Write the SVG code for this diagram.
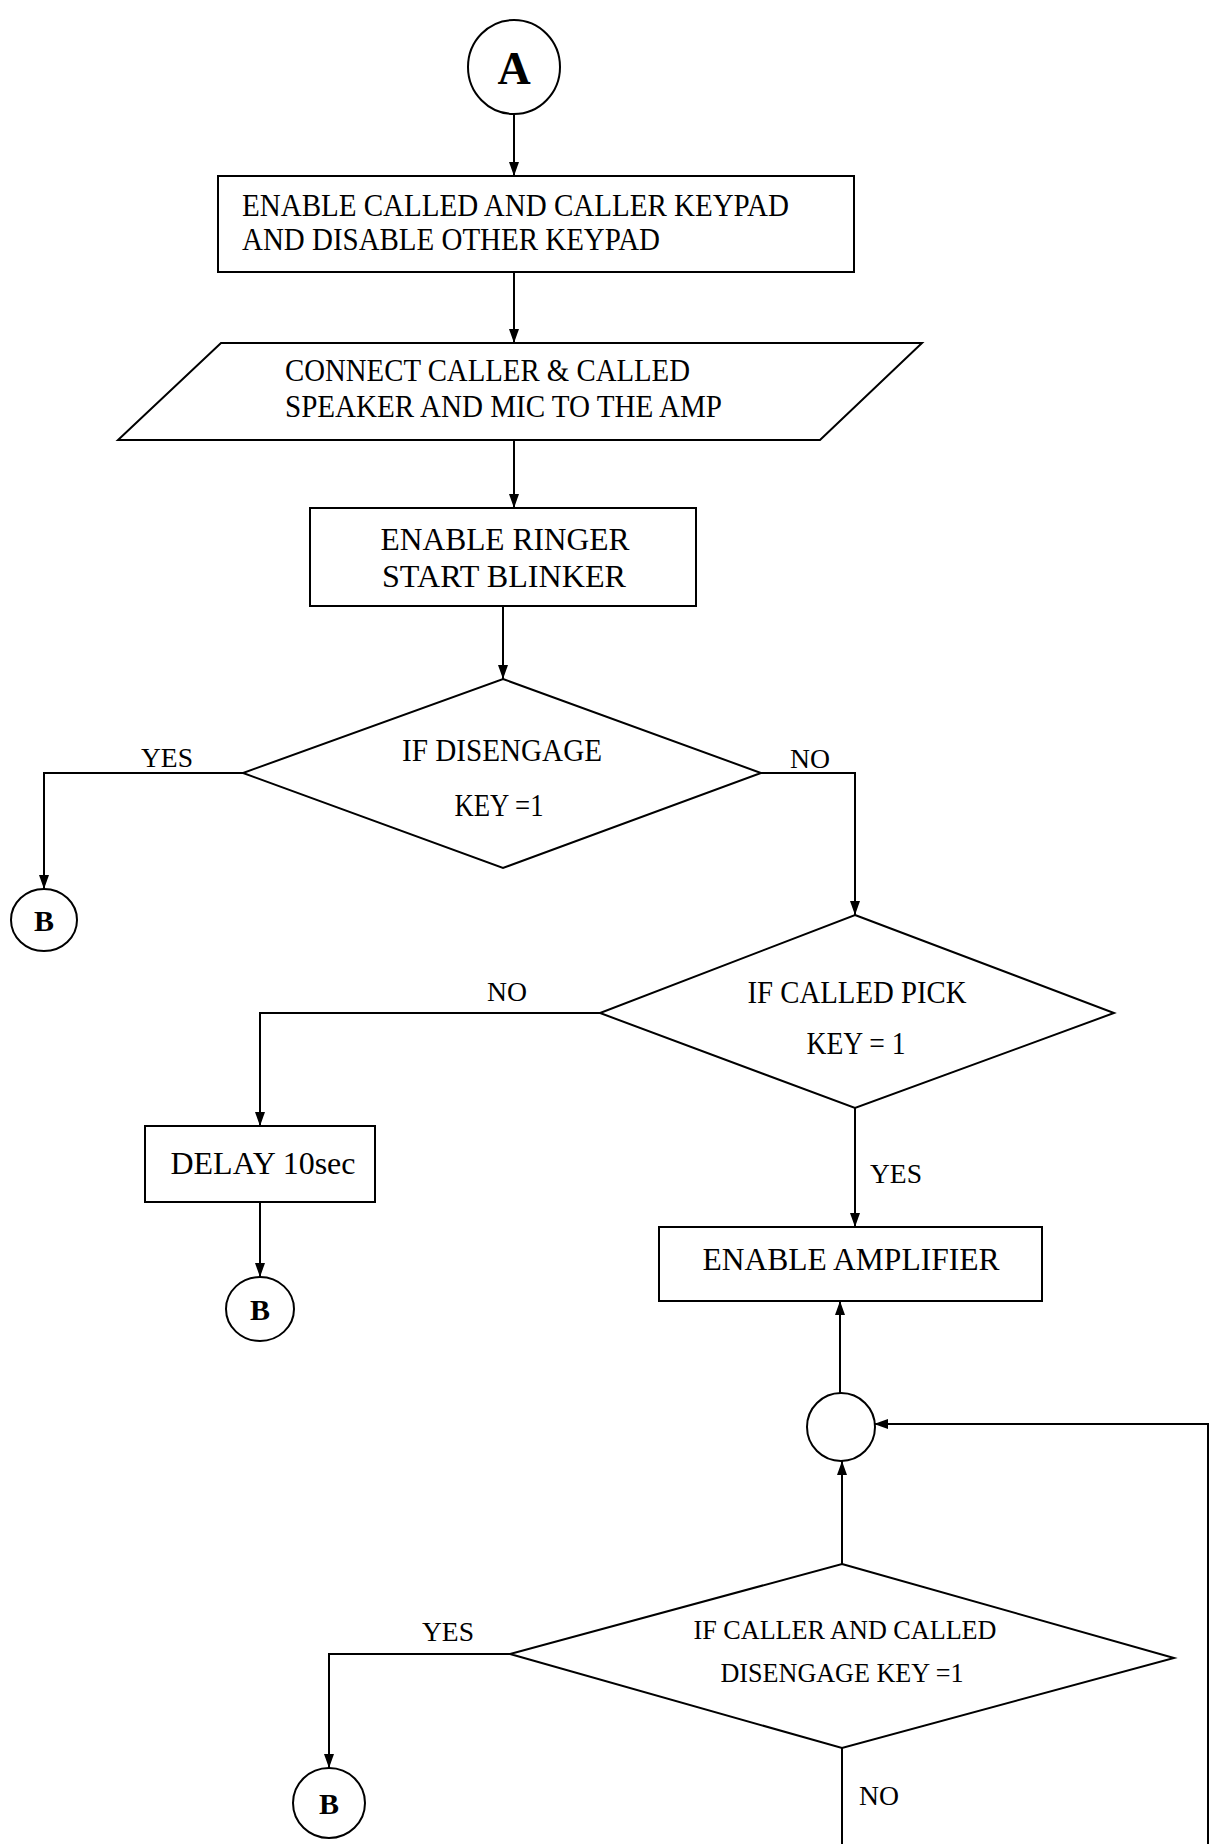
<svg xmlns="http://www.w3.org/2000/svg" width="1215" height="1844" viewBox="0 0 1215 1844">
<style>
.s{fill:#fff;stroke:#000;stroke-width:2}
.c{fill:none;stroke:#000;stroke-width:2}
text{font-family:"Liberation Serif","Times New Roman",serif;fill:#000}
.t{font-size:32px}
.m{text-anchor:middle}
.b{font-weight:bold}
.l{font-size:27px}
</style>
<defs>
<marker id="ah" viewBox="0 0 14 10" refX="14" refY="5" markerWidth="14" markerHeight="10" markerUnits="userSpaceOnUse" orient="auto"><path d="M0,0L14,5L0,10z" fill="#000"/></marker>
</defs>
<rect width="1215" height="1844" fill="#fff"/>
<g id="connectors">
<path class="c" d="M514,114V176" marker-end="url(#ah)"/>
<path class="c" d="M514,272V343" marker-end="url(#ah)"/>
<path class="c" d="M514,440V508" marker-end="url(#ah)"/>
<path class="c" d="M503,606V679" marker-end="url(#ah)"/>
<path class="c" d="M243,773H44V889" marker-end="url(#ah)"/>
<path class="c" d="M761,773H855V915" marker-end="url(#ah)"/>
<path class="c" d="M600,1013H260V1126" marker-end="url(#ah)"/>
<path class="c" d="M260,1202V1277" marker-end="url(#ah)"/>
<path class="c" d="M855,1108V1227" marker-end="url(#ah)"/>
<path class="c" d="M840,1393V1301" marker-end="url(#ah)"/>
<path class="c" d="M842,1564V1461" marker-end="url(#ah)"/>
<path class="c" d="M1208,1844V1424H874" marker-end="url(#ah)"/>
<path class="c" d="M510,1654H329V1768" marker-end="url(#ah)"/>
<path class="c" d="M842,1748V1844"/>
<text class="l m" x="167" y="767" textLength="52" lengthAdjust="spacingAndGlyphs">YES</text>
<text class="l m" x="810" y="768" textLength="40" lengthAdjust="spacingAndGlyphs">NO</text>
<text class="l m" x="507" y="1001" textLength="40" lengthAdjust="spacingAndGlyphs">NO</text>
<text class="l" x="870" y="1183" textLength="52" lengthAdjust="spacingAndGlyphs">YES</text>
<text class="l m" x="448" y="1641" textLength="52" lengthAdjust="spacingAndGlyphs">YES</text>
<text class="l" x="859" y="1805" textLength="40" lengthAdjust="spacingAndGlyphs">NO</text>
</g>
<g id="startA">
<ellipse class="s" cx="514" cy="67" rx="46" ry="47"/>
<text class="b m" x="514" y="84" font-size="46">A</text>
</g>
<g id="enableKeypad">
<rect class="s" x="218" y="176" width="636" height="96"/>
<text class="t" x="242" y="216" textLength="547" lengthAdjust="spacingAndGlyphs">ENABLE CALLED AND CALLER KEYPAD</text>
<text class="t" x="242" y="250" textLength="418" lengthAdjust="spacingAndGlyphs">AND DISABLE OTHER KEYPAD</text>
</g>
<g id="connectSpeaker">
<polygon class="s" points="221,343 922,343 820,440 118,440"/>
<text class="t" x="285" y="381" textLength="405" lengthAdjust="spacingAndGlyphs">CONNECT CALLER &amp; CALLED</text>
<text class="t" x="285" y="417" textLength="437" lengthAdjust="spacingAndGlyphs">SPEAKER AND MIC TO THE AMP</text>
</g>
<g id="enableRinger">
<rect class="s" x="310" y="508" width="386" height="98"/>
<text class="t m" x="505" y="550" textLength="249" lengthAdjust="spacingAndGlyphs">ENABLE RINGER</text>
<text class="t m" x="504" y="587" textLength="244" lengthAdjust="spacingAndGlyphs">START BLINKER</text>
</g>
<g id="ifDisengage">
<polygon class="s" points="503,679 761,773 503,868 243,773"/>
<text class="t m" x="502" y="761" textLength="200" lengthAdjust="spacingAndGlyphs">IF DISENGAGE</text>
<text class="t m" x="499" y="816" textLength="89" lengthAdjust="spacingAndGlyphs">KEY =1</text>
</g>
<g id="B1">
<ellipse class="s" cx="44" cy="920" rx="33" ry="31"/>
<text class="b m" x="44" y="931" font-size="30">B</text>
</g>
<g id="ifCalledPick">
<polygon class="s" points="855,915 1114,1013 855,1108 600,1013"/>
<text class="t m" x="857" y="1003" textLength="219" lengthAdjust="spacingAndGlyphs">IF CALLED PICK</text>
<text class="t m" x="856" y="1054" textLength="99" lengthAdjust="spacingAndGlyphs">KEY = 1</text>
</g>
<g id="delay">
<rect class="s" x="145" y="1126" width="230" height="76"/>
<text class="t m" x="263" y="1174" textLength="185" lengthAdjust="spacingAndGlyphs">DELAY 10sec</text>
</g>
<g id="B2">
<ellipse class="s" cx="260" cy="1309" rx="34" ry="32"/>
<text class="b m" x="260" y="1320" font-size="30">B</text>
</g>
<g id="enableAmp">
<rect class="s" x="659" y="1227" width="383" height="74"/>
<text class="t m" x="851" y="1270" textLength="297" lengthAdjust="spacingAndGlyphs">ENABLE AMPLIFIER</text>
</g>
<g id="junction">
<circle class="s" cx="841" cy="1427" r="34"/>
</g>
<g id="ifCallerCalled">
<polygon class="s" points="842,1564 1174,1658 842,1748 510,1654"/>
<text class="m" x="845" y="1639" font-size="27" textLength="303" lengthAdjust="spacingAndGlyphs">IF CALLER AND CALLED</text>
<text class="m" x="842" y="1682" font-size="27" textLength="243" lengthAdjust="spacingAndGlyphs">DISENGAGE KEY =1</text>
</g>
<g id="B3">
<ellipse class="s" cx="329" cy="1803" rx="36" ry="35"/>
<text class="b m" x="329" y="1814" font-size="30">B</text>
</g>
</svg>
